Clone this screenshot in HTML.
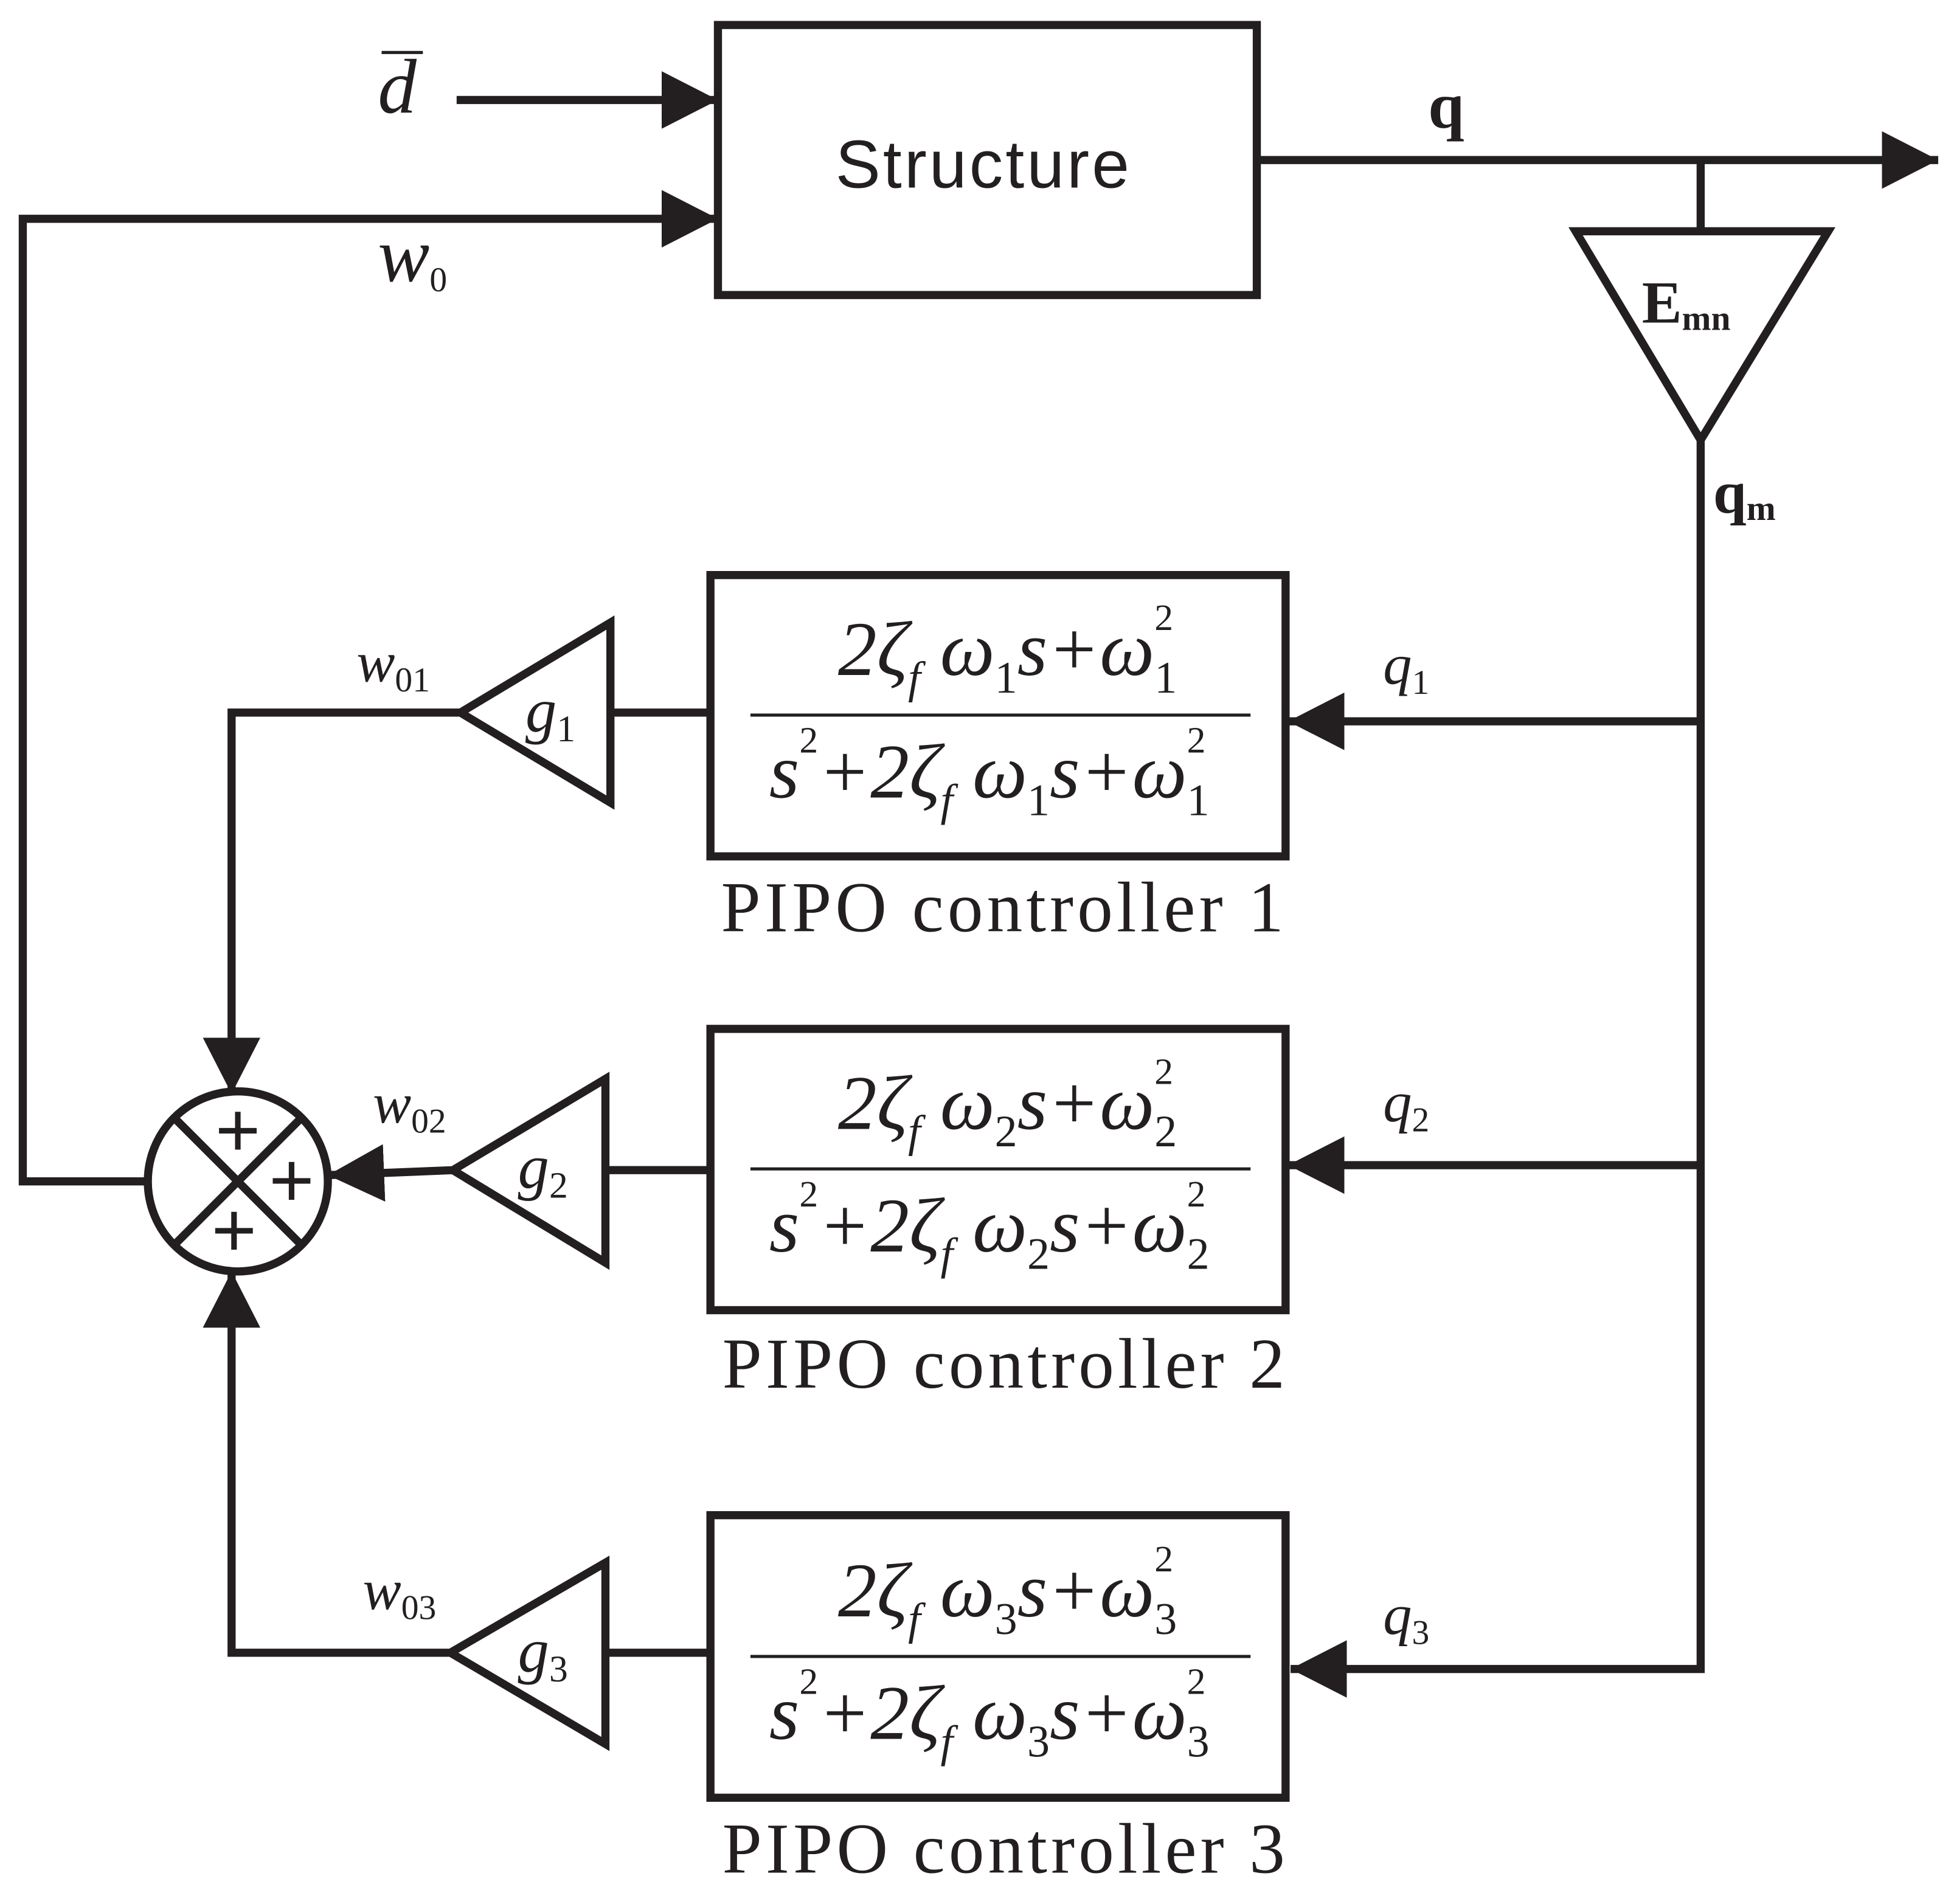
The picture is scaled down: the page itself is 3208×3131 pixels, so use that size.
<!DOCTYPE html>
<html><head><meta charset="utf-8"><style>
html,body{margin:0;padding:0;background:#fff}
svg{display:block}
text{font-family:"Liberation Serif",serif;fill:#231f20}
.m{font-style:italic;font-size:62px}
.s{font-size:40px}
.lab{font-size:57px;letter-spacing:3px}
</style></head><body>
<svg width="3208" height="3131" viewBox="0 0 1560 1523" xmlns="http://www.w3.org/2000/svg">
<defs>
<marker id="a" markerWidth="46" markerHeight="46" refX="45" refY="23" orient="auto" markerUnits="userSpaceOnUse">
<path d="M0,0 L45,23 L0,46 z" fill="#231f20"/></marker>
</defs>
<g stroke="#231f20" stroke-width="6.5" fill="none">
<rect x="574" y="20" width="431" height="216"/>
<line x1="365" y1="80" x2="574" y2="80" marker-end="url(#a)"/>
<polyline points="118,945 18,945 18,175 574,175" marker-end="url(#a)"/>
<line x1="1005" y1="128" x2="1550" y2="128" marker-end="url(#a)"/>
<line x1="1360" y1="128" x2="1360" y2="185"/>
<polygon points="1260,185 1462,185 1360,352"/>
<polyline points="1360,352 1360,1335 1032,1335" marker-end="url(#a)"/>
<line x1="1360" y1="577" x2="1030" y2="577" marker-end="url(#a)"/>
<line x1="1360" y1="932" x2="1030" y2="932" marker-end="url(#a)"/>
<rect x="568" y="460" width="460" height="225"/>
<rect x="568" y="823" width="460" height="225"/>
<rect x="568" y="1212" width="460" height="226"/>
<polygon points="368,570 488,498 488,642"/>
<polygon points="362,936 484,863 484,1010"/>
<polygon points="360,1322 484,1250 484,1395"/>
<line x1="488" y1="570" x2="568" y2="570"/>
<line x1="484" y1="936" x2="568" y2="936"/>
<line x1="484" y1="1322" x2="568" y2="1322"/>
<polyline points="368,570 185,570 185,875" marker-end="url(#a)"/>
<line x1="362" y1="936" x2="262" y2="940" marker-end="url(#a)"/>
<polyline points="360,1322 185,1322 185,1017" marker-end="url(#a)"/>
<circle cx="190" cy="945" r="72"/>
<line x1="139" y1="894" x2="241" y2="996"/>
<line x1="241" y1="894" x2="139" y2="996"/>
</g>
<g stroke="#231f20" stroke-width="2.5">
<line x1="600" y1="572" x2="1000" y2="572"/>
<line x1="600" y1="935" x2="1000" y2="935"/>
<line x1="600" y1="1325" x2="1000" y2="1325"/>
<line x1="305" y1="42" x2="338" y2="42"/>
</g>
<g text-anchor="middle" fill="#231f20">
<text x="190" y="925" style="font-family:'Liberation Sans',sans-serif;font-size:62px">+</text>
<text x="233" y="965" style="font-family:'Liberation Sans',sans-serif;font-size:62px">+</text>
<text x="187" y="1005" style="font-family:'Liberation Sans',sans-serif;font-size:62px">+</text>
</g>
<text x="302" y="90" class="m" font-size="58">d</text>
<text x="668" y="150" style="font-family:'Liberation Sans',sans-serif;font-size:54px;letter-spacing:2px">Structure</text>
<text x="1142" y="102" style="font-weight:bold;font-size:52px">q</text>
<text x="1313" y="258" style="font-weight:bold;font-size:48px">E<tspan font-size="28" dy="6">mn</tspan></text>
<text x="1370" y="410" style="font-weight:bold;font-size:48px">q<tspan font-size="28" dy="6">m</tspan></text>
<text x="302" y="225" class="m" font-size="46">w<tspan style="font-style:normal;font-size:28px" dy="8">0</tspan></text>
<text x="285" y="545" class="m" style="font-size:46px">w<tspan style="font-style:normal;font-size:28px" dy="8">01</tspan></text>
<text x="298" y="898" class="m" style="font-size:46px">w<tspan style="font-style:normal;font-size:28px" dy="8">02</tspan></text>
<text x="290" y="1287" class="m" style="font-size:46px">w<tspan style="font-style:normal;font-size:28px" dy="8">03</tspan></text>
<text x="1106" y="547" class="m" style="font-size:46px">q<tspan style="font-style:normal;font-size:28px" dy="8">1</tspan></text>
<text x="1106" y="897" class="m" style="font-size:46px">q<tspan style="font-style:normal;font-size:28px" dy="8">2</tspan></text>
<text x="1106" y="1307" class="m" style="font-size:46px">q<tspan style="font-style:normal;font-size:28px" dy="8">3</tspan></text>
<text x="420" y="585" class="m" style="font-size:50px">g<tspan style="font-style:normal;font-size:30px" dy="8">1</tspan></text>
<text x="414" y="950" class="m" style="font-size:50px">g<tspan style="font-style:normal;font-size:30px" dy="8">2</tspan></text>
<text x="414" y="1337" class="m" style="font-size:50px">g<tspan style="font-style:normal;font-size:30px" dy="8">3</tspan></text>
<g>
<text x="670" y="540" class="m">2ζ<tspan font-size="36" dy="14">f</tspan><tspan dy="-14"> ω</tspan><tspan font-size="36" style="font-style:normal" dy="14">1</tspan><tspan dy="-14">s+ω</tspan><tspan font-size="36" style="font-style:normal" dy="14">1</tspan><tspan font-size="30" style="font-style:normal" dx="-18" dy="-50">2</tspan></text>
<text x="615" y="638" class="m">s<tspan font-size="30" style="font-style:normal" dy="-36">2</tspan><tspan dy="36">+2ζ</tspan><tspan font-size="36" dy="14">f</tspan><tspan dy="-14"> ω</tspan><tspan font-size="36" style="font-style:normal" dy="14">1</tspan><tspan dy="-14">s+ω</tspan><tspan font-size="36" style="font-style:normal" dy="14">1</tspan><tspan font-size="30" style="font-style:normal" dx="-18" dy="-50">2</tspan></text>
<text x="670" y="903" class="m">2ζ<tspan font-size="36" dy="14">f</tspan><tspan dy="-14"> ω</tspan><tspan font-size="36" style="font-style:normal" dy="14">2</tspan><tspan dy="-14">s+ω</tspan><tspan font-size="36" style="font-style:normal" dy="14">2</tspan><tspan font-size="30" style="font-style:normal" dx="-18" dy="-50">2</tspan></text>
<text x="615" y="1001" class="m">s<tspan font-size="30" style="font-style:normal" dy="-36">2</tspan><tspan dy="36">+2ζ</tspan><tspan font-size="36" dy="14">f</tspan><tspan dy="-14"> ω</tspan><tspan font-size="36" style="font-style:normal" dy="14">2</tspan><tspan dy="-14">s+ω</tspan><tspan font-size="36" style="font-style:normal" dy="14">2</tspan><tspan font-size="30" style="font-style:normal" dx="-18" dy="-50">2</tspan></text>
<text x="670" y="1293" class="m">2ζ<tspan font-size="36" dy="14">f</tspan><tspan dy="-14"> ω</tspan><tspan font-size="36" style="font-style:normal" dy="14">3</tspan><tspan dy="-14">s+ω</tspan><tspan font-size="36" style="font-style:normal" dy="14">3</tspan><tspan font-size="30" style="font-style:normal" dx="-18" dy="-50">2</tspan></text>
<text x="615" y="1391" class="m">s<tspan font-size="30" style="font-style:normal" dy="-36">2</tspan><tspan dy="36">+2ζ</tspan><tspan font-size="36" dy="14">f</tspan><tspan dy="-14"> ω</tspan><tspan font-size="36" style="font-style:normal" dy="14">3</tspan><tspan dy="-14">s+ω</tspan><tspan font-size="36" style="font-style:normal" dy="14">3</tspan><tspan font-size="30" style="font-style:normal" dx="-18" dy="-50">2</tspan></text>
</g>
<text x="803" y="745" class="lab" text-anchor="middle">PIPO controller 1</text>
<text x="804" y="1110" class="lab" text-anchor="middle">PIPO controller 2</text>
<text x="804" y="1498" class="lab" text-anchor="middle">PIPO controller 3</text>
</svg>
</body></html>
